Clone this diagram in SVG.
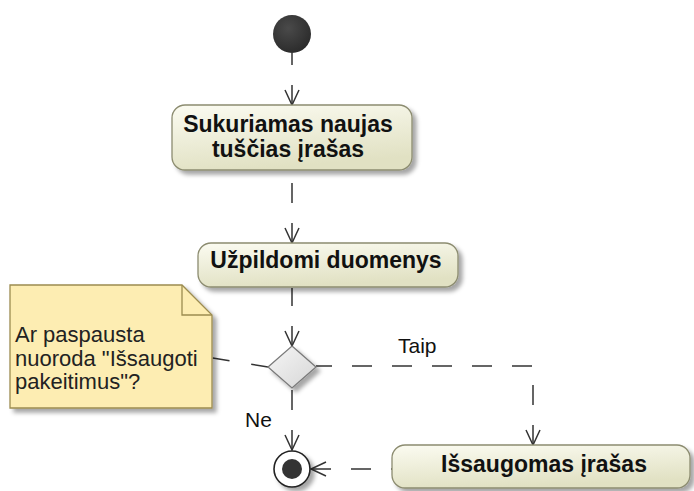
<svg xmlns="http://www.w3.org/2000/svg" width="694" height="491" viewBox="0 0 694 491">
<defs>
<linearGradient id="gAct" x1="0" y1="0" x2="0.3" y2="1">
<stop offset="0" stop-color="#fbfbf1"/>
<stop offset="1" stop-color="#e1e1c3"/>
</linearGradient>
<linearGradient id="gDia" x1="0" y1="0" x2="1" y2="1">
<stop offset="0" stop-color="#f6f6f6"/>
<stop offset="1" stop-color="#d6d6d6"/>
</linearGradient>
<radialGradient id="gInit" cx="0.4" cy="0.35" r="0.7">
<stop offset="0" stop-color="#4a4a4a"/>
<stop offset="1" stop-color="#2a2a2a"/>
</radialGradient>
<filter id="sh" x="-20%" y="-20%" width="140%" height="150%">
<feDropShadow dx="4" dy="4" stdDeviation="2" flood-color="#000" flood-opacity="0.35"/>
</filter>
<marker id="arr" markerUnits="userSpaceOnUse" markerWidth="20" markerHeight="20" viewBox="-16 -10 20 20" refX="0" refY="0" orient="auto-start-reverse">
<path d="M-15,-7 L0,0 L-15,7" fill="none" stroke="#333" stroke-width="1.5"/>
</marker>
</defs>
<style>
.act{fill:url(#gAct);stroke:#8c8c70;stroke-width:1.3;filter:url(#sh)}
.at{font-family:"Liberation Sans",Arial,sans-serif;font-weight:bold;font-size:23px;fill:#111;text-anchor:middle}
.lbl{font-family:"Liberation Sans",Arial,sans-serif;font-size:21px;fill:#111}
.nt{font-family:"Liberation Sans",Arial,sans-serif;font-size:22px;fill:#222}
.c{fill:none;stroke:#333;stroke-width:1.5;stroke-dasharray:20 20}
.ca{marker-start:url(#arr)}
</style>

<g id="connectors">
<path class="c ca" d="M292,105 V53"/>
<path class="c ca" d="M292,243 V171"/>
<path class="c ca" d="M292,346 V288"/>
<path class="c ca" d="M292,450 V389"/>
<path class="c ca" d="M533,445 V366 H316"/>
<path class="c ca" d="M311,469 H392"/>
<path class="c" style="stroke-dasharray:17 22" d="M268,367 L212,358"/>
<text class="lbl" x="398" y="353">Taip</text>
<text class="lbl" x="245" y="427">Ne</text>
</g>

<g id="initial">
<circle cx="292" cy="34" r="19" fill="url(#gInit)"/>
</g>

<g id="action1">
<rect class="act" x="172" y="105" width="240" height="65" rx="13"/>
<text class="at" x="288" y="132">Sukuriamas naujas</text>
<text class="at" x="288" y="157">tuščias įrašas</text>
</g>

<g id="action2">
<rect class="act" x="198" y="243" width="260" height="44" rx="13"/>
<text class="at" x="326" y="268">Užpildomi duomenys</text>
</g>

<g id="decision">
<polygon points="292,346 316,367 292,388 268,367" fill="url(#gDia)" stroke="#7a7a7a" stroke-width="1.3" filter="url(#sh)"/>
</g>

<g id="note">
<polygon points="10,285 182,285 212,315 212,408 10,408" fill="#fdedb2" stroke="#9c8c50" stroke-width="1.3" filter="url(#sh)"/>
<polyline points="182,285 182,315 212,315" fill="none" stroke="#9c8c50" stroke-width="1.3"/>
<text class="nt" x="15" y="342">Ar paspausta</text>
<text class="nt" x="15" y="366">nuoroda "Išsaugoti</text>
<text class="nt" x="15" y="389">pakeitimus"?</text>
</g>

<g id="action3">
<rect class="act" x="392" y="445" width="298" height="43" rx="13"/>
<text class="at" x="544" y="472">Išsaugomas įrašas</text>
</g>

<g id="final">
<circle cx="292" cy="469" r="18" fill="#fff" stroke="#222" stroke-width="1.6" filter="url(#sh)"/>
<circle cx="292" cy="469" r="10" fill="#333"/>
</g>
</svg>
